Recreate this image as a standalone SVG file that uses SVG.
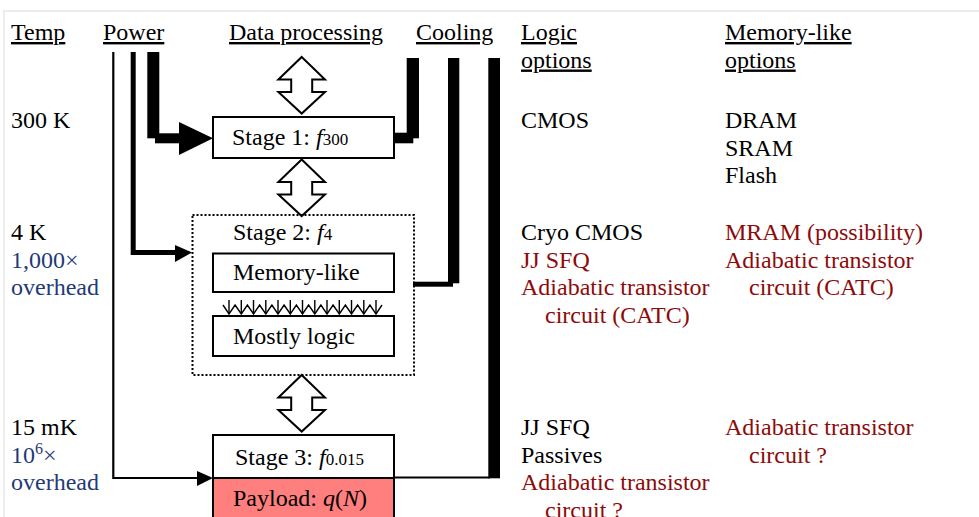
<svg xmlns="http://www.w3.org/2000/svg" width="979" height="517" viewBox="0 0 979 517">
<style>
text{font-family:"Liberation Serif","Times New Roman",serif;font-size:24px;fill:#000}
.u{text-decoration:underline}
.red{fill:#8e0a0a}
.blue{fill:#1f3a78}
.sub{font-size:17px}
.box{fill:#fff;stroke:#000;stroke-width:2}
.dbl{fill:#fff;stroke:#000;stroke-width:2;stroke-linejoin:miter}
.blk{fill:#000}
</style>
<defs>
<path id="dblarrow" d="M0,0 L23.3,22.6 L10.5,22.6 L10.5,35 L23.3,35 L0,56.6 L-23.3,35 L-10.5,35 L-10.5,22.6 L-23.3,22.6 Z"/>
</defs>
<rect x="4" y="11" width="1000" height="600" fill="none" stroke="#ececec" stroke-width="2"/>

<g id="headers">
<text x="11" y="40" class="u">Temp</text>
<text x="103" y="40" class="u">Power</text>
<text x="229" y="40" class="u">Data processing</text>
<text x="416" y="40" class="u">Cooling</text>
<text x="521" y="40" class="u">Logic</text>
<text x="521" y="67.5" class="u">options</text>
<text x="725" y="40" class="u">Memory-like</text>
<text x="725" y="67.5" class="u">options</text>
</g>

<g id="temps">
<text x="11" y="128">300 K</text>
<text x="11" y="240">4 K</text>
<text x="11" y="267.5" class="blue">1,000×</text>
<text x="11" y="295" class="blue">overhead</text>
<text x="11" y="435">15 mK</text>
<text x="11" y="462.5" class="blue">10<tspan font-size="16" dy="-9">6</tspan><tspan dy="9">×</tspan></text>
<text x="11" y="490" class="blue">overhead</text>
</g>

<g id="logic-options">
<text x="521" y="128">CMOS</text>
<text x="521" y="240">Cryo CMOS</text>
<text x="521" y="267.5" class="red">JJ SFQ</text>
<text x="521" y="295" class="red">Adiabatic transistor</text>
<text x="545" y="322.5" class="red">circuit (CATC)</text>
<text x="521" y="435">JJ SFQ</text>
<text x="521" y="462.5">Passives</text>
<text x="521" y="490" class="red">Adiabatic transistor</text>
<text x="545" y="517.5" class="red">circuit ?</text>
</g>

<g id="memory-options">
<text x="725" y="128">DRAM</text>
<text x="725" y="155.5">SRAM</text>
<text x="725" y="183">Flash</text>
<text x="725" y="240" class="red">MRAM (possibility)</text>
<text x="725" y="267.5" class="red">Adiabatic transistor</text>
<text x="749" y="295" class="red">circuit (CATC)</text>
<text x="725" y="435" class="red">Adiabatic transistor</text>
<text x="749" y="462.5" class="red">circuit ?</text>
</g>

<g id="connectors">
<!-- power: thick to stage 1 -->
<rect class="blk" x="147.3" y="52" width="12" height="86.3"/>
<rect class="blk" x="155" y="133.3" width="25" height="10"/>
<polygon class="blk" points="179,122 213,138.3 179,155"/>
<!-- power: medium to stage 2 -->
<polyline points="133.2,52 133.2,252.5 176,252.5" fill="none" stroke="#000" stroke-width="5"/>
<polygon class="blk" points="175,245 192,252.5 175,262"/>
<!-- power: thin to stage 3 -->
<polyline points="113.3,52 113.3,478 198,478" fill="none" stroke="#000" stroke-width="2.2"/>
<polygon class="blk" points="197,471 213,478 197,486"/>
<!-- cooling 1 -->
<rect class="blk" x="406.7" y="58" width="12.3" height="80.3"/>
<rect class="blk" x="394" y="132.7" width="19.3" height="10.6"/>
<!-- cooling 2 -->
<rect class="blk" x="448" y="58" width="11.3" height="225.3"/>
<rect class="blk" x="413" y="281.7" width="40" height="5"/>
<!-- cooling 3 -->
<rect class="blk" x="488.3" y="58" width="11.7" height="420.3"/>
<line x1="394" y1="477.5" x2="490" y2="477.5" stroke="#000" stroke-width="2.2"/>
<!-- data processing double arrows -->
<use href="#dblarrow" class="dbl" transform="translate(301.7,57)"/>
<use href="#dblarrow" class="dbl" transform="translate(301.7,159.5)"/>
<use href="#dblarrow" class="dbl" transform="translate(301.7,375)"/>
<!-- memory to logic arrows -->
<g fill="none" stroke="#000" stroke-width="1.4">
<polyline points="223,305 229,314 235.1,305 241.3,314 247.4,305 253.5,314 259.6,305 265.8,314 271.9,305 278,314 284.1,305 290.3,314 296.4,305 302.5,314 308.6,305 314.8,314 320.9,305 327,314 333.1,305 339.3,314 345.4,305 351.5,314 357.6,305 363.8,314 369.9,305 376,314 382,305"/>
<path d="M229,300V314M241.3,300V314M253.5,300V314M265.8,300V314M278,300V314M290.3,300V314M302.5,300V314M314.8,300V314M327,300V314M339.3,300V314M351.5,300V314M363.8,300V314M376,300V314"/>
</g>
</g>

<g id="stage1">
<rect class="box" x="213" y="117" width="181" height="41"/>
<text x="232" y="145">Stage 1: <tspan font-style="italic">f</tspan><tspan class="sub">300</tspan></text>
</g>

<g id="stage2">
<rect x="192.5" y="215" width="221.5" height="160" fill="none" stroke="#000" stroke-width="2" stroke-dasharray="2,2"/>
<text x="233" y="240">Stage 2: <tspan font-style="italic">f</tspan><tspan class="sub">4</tspan></text>
</g>

<g id="memory-like">
<rect class="box" x="213" y="253.5" width="181" height="38.5"/>
<text x="233" y="280">Memory-like</text>
</g>

<g id="mostly-logic">
<rect class="box" x="213" y="316" width="181" height="40"/>
<text x="233" y="344">Mostly logic</text>
</g>

<g id="stage3">
<rect class="box" x="213" y="435" width="181" height="43"/>
<text x="235" y="465">Stage 3: <tspan font-style="italic">f</tspan><tspan class="sub">0.015</tspan></text>
</g>

<g id="payload">
<rect x="213" y="478" width="181" height="60" fill="#ff7f7f" stroke="#000" stroke-width="2"/>
<text x="233" y="506">Payload: <tspan font-style="italic">q</tspan>(<tspan font-style="italic">N</tspan>)</text>
</g>
</svg>
